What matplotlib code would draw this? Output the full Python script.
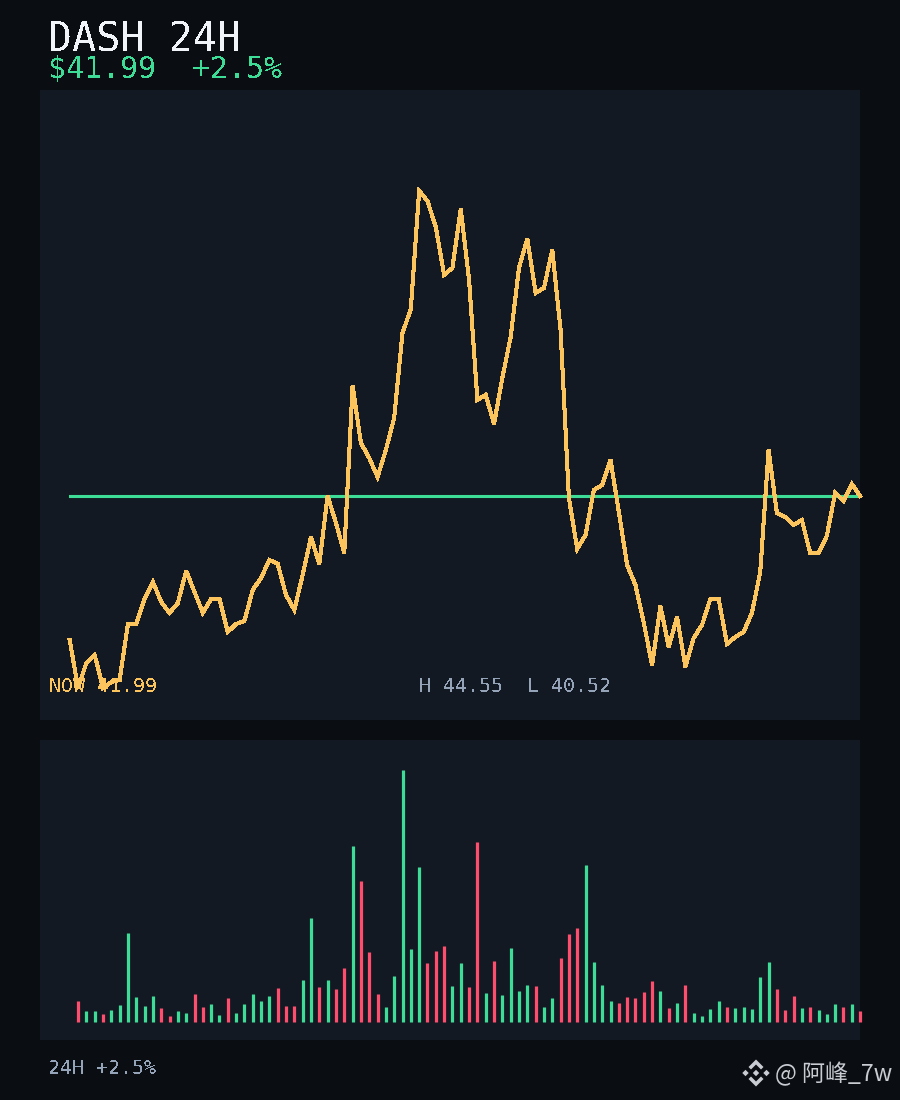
import matplotlib
matplotlib.use("Agg")
import matplotlib.pyplot as plt
from matplotlib.patches import Polygon

# colours
BG = "#0a0d12"
PANEL = "#121922"
AMBER = "#fbc45c"
GREEN = "#3ddc97"
RED = "#ff4d6d"
WHITE = "#f1f4f8"
SLATE = "#94a3b8"

# DASH price over 24h
prices = [
    40.79, 40.39, 40.598, 40.665, 40.39, 40.44, 40.457, 40.923, 40.923, 41.132,
    41.273, 41.107, 41.015, 41.098, 41.365, 41.19, 41.015, 41.132, 41.132, 40.857,
    40.923, 40.948, 41.207, 41.307, 41.457, 41.423, 41.165, 41.04, 41.332, 41.648,
    41.423, 41.99, 41.765, 41.515, 42.907, 42.432, 42.307, 42.148, 42.373, 42.64,
    43.348, 43.548, 44.532, 44.448, 44.232, 43.832, 43.89, 44.382, 43.79, 42.79,
    42.832, 42.59, 42.973, 43.315, 43.89, 44.132, 43.682, 43.723, 44.04, 43.373,
    41.973, 41.548, 41.665, 42.04, 42.082, 42.29, 41.857, 41.415, 41.248, 40.932,
    40.582, 41.073, 40.732, 40.982, 40.565, 40.807, 40.915, 41.132, 41.132, 40.757,
    40.815, 40.857, 41.015, 41.357, 42.373, 41.848, 41.815, 41.748, 41.79, 41.515,
    41.515, 41.657, 42.015, 41.948, 42.09, 41.99,
]

# volume bars, one per step from the second price on
volumes = [
    21, 11, 11, 8, 12, 17, 89, 25, 16, 26, 14, 6, 11, 9, 28, 15, 18, 7, 24, 9,
    18, 28, 21, 26, 34, 16, 16, 42, 104, 35, 42, 33, 54, 176, 141, 70, 28, 15, 46, 252,
    73, 155, 59, 71, 76, 36, 59, 35, 180, 29, 61, 27, 74, 31, 37, 36, 15, 24, 64, 88,
    94, 157, 60, 37, 21, 19, 25, 24, 30, 41, 31, 14, 19, 37, 9, 6, 13, 21, 15, 14,
    15, 13, 45, 60, 33, 12, 26, 14, 15, 12, 8, 18, 15, 18, 11,
]

now_price = 41.99
title = "DASH 24H"
subtitle = "$41.99  +2.5%"
now_label = "NOW 41.99"
range_label = "H 44.55  L 40.52"
footer = "24H +2.5%"
watermark = "@ 阿峰_7w"

W, H = 900, 1100
X0 = 69.7    # px of the first sample
STEP = 8.32  # px between samples


def panel(fig, top, bottom):
    ax = fig.add_axes([40 / W, 1 - bottom / H, 820 / W, (bottom - top) / H])
    ax.set_facecolor(PANEL)
    ax.set_xticks([])
    ax.set_yticks([])
    for s in ax.spines.values():
        s.set_visible(False)
    ax.set_xlim((40 - X0) / STEP, (860 - X0) / STEP)
    return ax


def main():
    fig = plt.figure(figsize=(W / 100, H / 100), dpi=100, facecolor=BG)
    mono = "DejaVu Sans Mono"

    # price panel
    ax = panel(fig, 90, 720)
    ax.set_ylim(40.123, 45.373)
    xs = list(range(len(prices)))
    ax.plot([xs[0], xs[-1]], [now_price, now_price], color=GREEN, lw=2.2, clip_on=False, zorder=2)
    ax.plot(xs, prices, color=AMBER, lw=2.2, clip_on=False, antialiased=False, zorder=3,
            solid_joinstyle="miter")

    # volume panel
    ax2 = panel(fig, 740, 1040)
    ax2.set_ylim(-18, 282)
    colors = [GREEN if prices[i + 1] >= prices[i] else RED for i in range(len(volumes))]
    ax2.vlines(range(1, len(volumes) + 1), 0, volumes, colors=colors, lw=2.3, clip_on=False)

    # overlay in pixel coordinates for the labels
    ov2 = fig.add_axes([0, 0, 1, 1], zorder=5)
    ov2.set_xlim(0, W)
    ov2.set_ylim(H, 0)
    ov2.axis("off")

    def label(x, y, s, size, color):
        ov2.text(x, y, s, fontsize=size, color=color, family=mono, va="baseline",
                 antialiased=False)

    label(48, 52, title, 28.8, WHITE)
    label(48, 78, subtitle, 21.5, GREEN)
    label(48, 1074, footer, 14.4, SLATE)

    # these two sit under the price line
    t = dict(fontsize=14.4, family=mono, va="baseline", antialiased=False, zorder=1,
             transform=ov2.transData)
    ax.text(49, 692, now_label, color=AMBER, **t)
    ax.text(419, 692, range_label, color=SLATE, **t)

    # watermark
    cx, cy = 756, 1073
    mark = "#c9cdd3"
    for dx, dy in [(0, 0), (-10.5, 0), (10.5, 0)]:
        r = 3.2
        ov2.add_patch(Polygon([(cx + dx - r, cy + dy), (cx + dx, cy + dy - r),
                               (cx + dx + r, cy + dy), (cx + dx, cy + dy + r)],
                              color=mark, lw=0))
    for sgn in (-1, 1):
        ov2.add_patch(Polygon([(cx, cy + sgn * 13.5), (cx + 7.5, cy + sgn * 6), (cx + 5, cy + sgn * 3.5),
                               (cx, cy + sgn * 8.5), (cx - 5, cy + sgn * 3.5), (cx - 7.5, cy + sgn * 6)],
                              color=mark, lw=0))
    ov2.text(775, 1081, watermark, fontsize=16.6, color=mark,
             family=["Noto Sans CJK SC", "DejaVu Sans"], va="baseline")

    fig.savefig("out.png", dpi=100, facecolor=BG)


if __name__ == "__main__":
    main()
